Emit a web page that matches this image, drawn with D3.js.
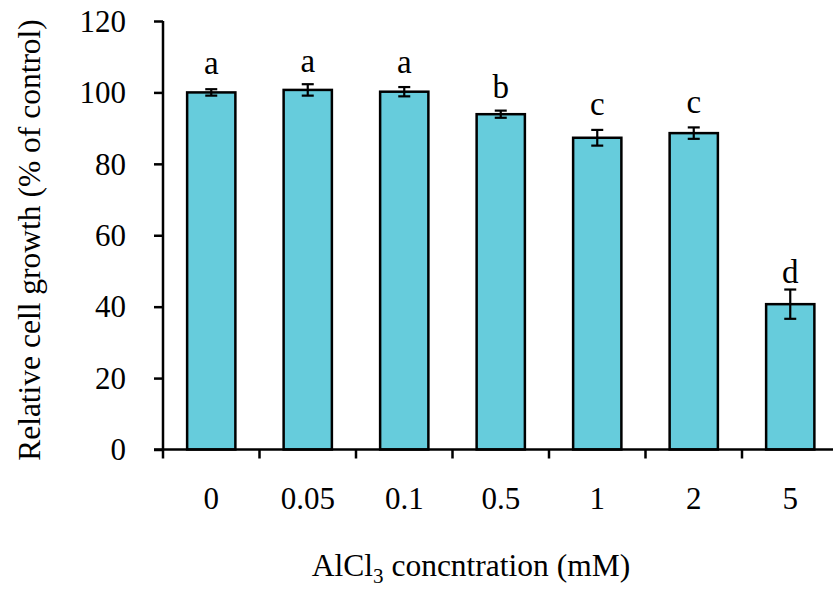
<!DOCTYPE html>
<html>
<head>
<meta charset="utf-8">
<script src="https://cdn.jsdelivr.net/npm/d3@7/dist/d3.min.js"></script>
<style>
  html, body { margin: 0; padding: 0; background: #fff; }
  svg text { font-family: "Liberation Serif", "Times New Roman", serif; }
</style>
</head>
<body>
<svg id="chart" width="833" height="590"></svg>
<script>
const categories = ["0", "0.05", "0.1", "0.5", "1", "2", "5"];
const values = [100.0, 100.7, 100.2, 93.9, 87.3, 88.6, 40.7];
const errors = [0.9, 1.6, 1.3, 1.0, 2.2, 1.6, 4.1];
const letters = ["a", "a", "a", "b", "c", "c", "d"];
const letterAt = [105.2, 105.8, 105.4, 98.5, 93.7, 94.2, 46.6];
const yTicks = [0, 20, 40, 60, 80, 100, 120];

const FONT = "Liberation Serif";
const svg = d3.select("#chart");
const tickFont = 31;
const letterFont = 33;
const titleFont = 31.5;

const x = d3.scaleBand().domain(categories).range([163, 838.5]).paddingInner(0.5).paddingOuter(0.25);
const y = d3.scaleLinear().domain([0, 120]).range([449.5, 21]);

const data = categories.map((c, i) => ({c, v: values[i], e: errors[i], l: letters[i], ly: letterAt[i]}));

// bars
svg.append("g").selectAll("rect").data(data).join("rect")
  .attr("x", d => x(d.c))
  .attr("y", d => y(d.v))
  .attr("width", x.bandwidth())
  .attr("height", d => y(0) - y(d.v))
  .attr("fill", "#66CCDC")
  .attr("stroke", "#000")
  .attr("stroke-width", 2.5);

// error bars
const eb = svg.append("g").attr("stroke", "#000").attr("stroke-width", 2.2);
data.forEach(d => {
  const cx = x(d.c) + x.bandwidth() / 2;
  eb.append("line").attr("x1", cx).attr("x2", cx).attr("y1", y(d.v - d.e)).attr("y2", y(d.v + d.e));
  eb.append("line").attr("x1", cx - 6).attr("x2", cx + 6).attr("y1", y(d.v - d.e)).attr("y2", y(d.v - d.e));
  eb.append("line").attr("x1", cx - 6).attr("x2", cx + 6).attr("y1", y(d.v + d.e)).attr("y2", y(d.v + d.e));
});

// letters
svg.append("g").selectAll("text").data(data).join("text")
  .attr("x", d => x(d.c) + x.bandwidth() / 2)
  .attr("y", d => y(d.ly))
  .attr("text-anchor", "middle")
  .attr("font-size", letterFont)
  .style("font-family", FONT)
  .attr("fill", "#000")
  .text(d => d.l);

// y axis
const yAxis = svg.append("g").attr("transform", "translate(163,0)")
  .call(d3.axisLeft(y).tickValues(yTicks).tickSize(9).tickPadding(28).tickFormat(d3.format("d")));
yAxis.attr("font-family", null);
yAxis.select(".domain").attr("stroke-width", 2.5).attr("d", `M0,${y(120)}V${y(0)}`);
yAxis.selectAll(".tick line").attr("stroke-width", 2.5);
yAxis.selectAll(".tick text").attr("font-size", tickFont).style("font-family", FONT).attr("fill", "#000").attr("dy", "0.33em");

// x axis
const xAxis = svg.append("g").attr("transform", `translate(0,${y(0)})`)
  .call(d3.axisBottom(x).tickSize(0).tickPadding(0));
xAxis.attr("font-family", null);
xAxis.select(".domain").attr("stroke-width", 2.5).attr("d", `M154,0H839`);
xAxis.selectAll(".tick text").attr("font-size", tickFont).style("font-family", FONT).attr("fill", "#000").attr("y", 59).attr("dy", 0);
// boundary ticks between categories
const bounds = [163].concat(categories.slice(1).map(c => x(c) - x.step() * x.paddingInner() / 2));
xAxis.append("g").selectAll("line").data(bounds).join("line")
  .attr("x1", d => d).attr("x2", d => d).attr("y1", 0).attr("y2", 9)
  .attr("stroke", "#000").attr("stroke-width", 2.5);

// axis titles
const xt = svg.append("text").attr("x", 471).attr("y", 576).attr("text-anchor", "middle")
  .attr("font-size", titleFont).style("font-family", FONT).attr("fill", "#000");
xt.append("tspan").text("AlCl");
xt.append("tspan").attr("font-size", 21).attr("dy", 7).text("3");
xt.append("tspan").attr("dy", -7).text(" concntration (mM)");

svg.append("text")
  .attr("transform", "translate(40,240) rotate(-90)")
  .attr("text-anchor", "middle")
  .attr("font-size", titleFont)
  .style("font-family", FONT)
  .attr("fill", "#000")
  .text("Relative cell growth (% of control)");
</script>
</body>
</html>
